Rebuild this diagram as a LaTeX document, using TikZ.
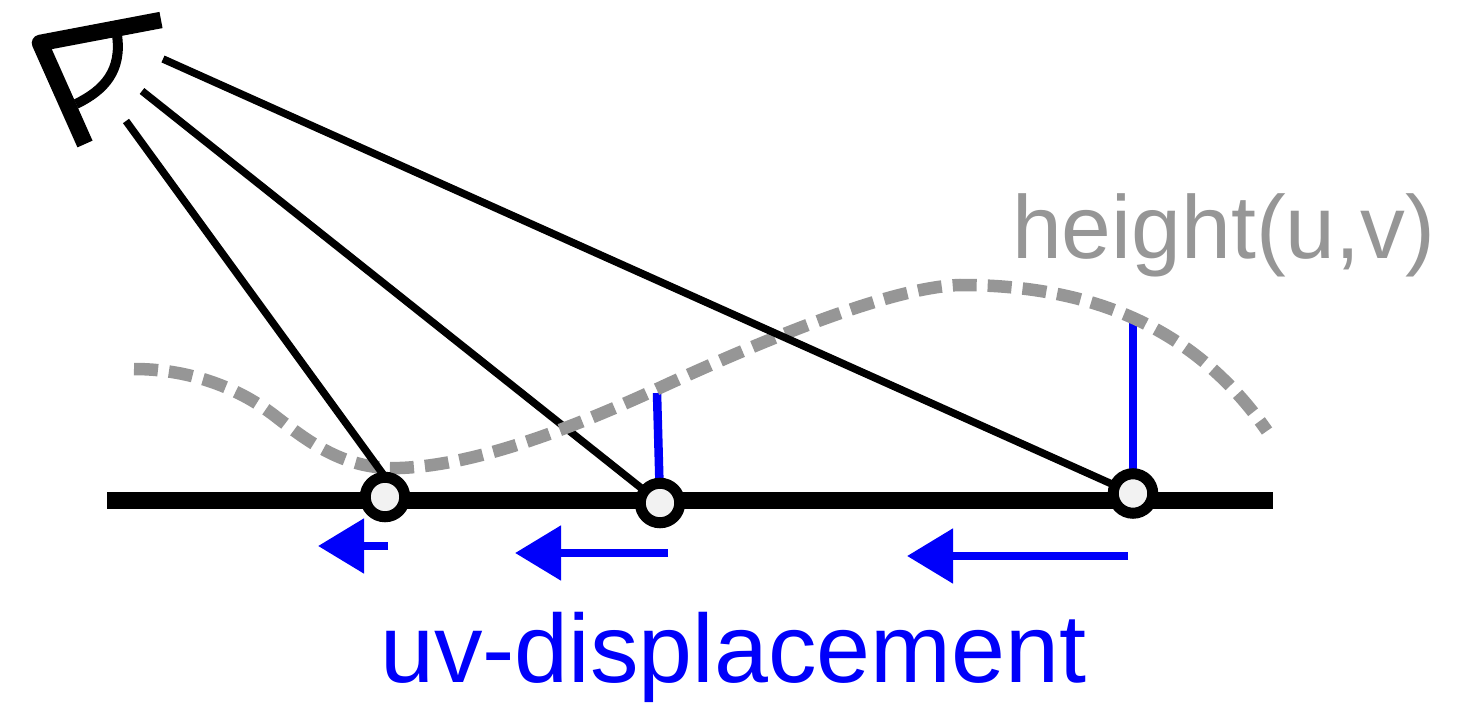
\documentclass[tikz,border=0pt]{standalone}
\usepackage{fontspec}
\setmainfont{Liberation Sans}
\usetikzlibrary{arrows.meta}
\definecolor{hgray}{HTML}{969696}
\definecolor{dblue}{HTML}{0000FA}
\definecolor{dotfill}{HTML}{F2F2F2}
\tikzset{
  ray/.style={draw=black,line width=7.5pt},
  surface/.style={draw=black,line width=17pt},
  heightcurve/.style={draw=hgray,line width=12.5pt,dash pattern=on 24pt off 11pt},
  offset/.style={draw=dblue,line width=8.5pt},
  displ/.style={draw=dblue,line width=8.5pt,-{Triangle[length=46pt,width=53pt]}},
  sample/.style={circle,draw=black,fill=dotfill,line width=11pt,outer sep=0pt,minimum size=39.5pt,inner sep=0pt},
  eyeframe/.style={draw=black,line width=16.5pt,line join=round},
  eyelens/.style={draw=black,line width=10pt},
}
\begin{document}
\begin{tikzpicture}[x=1pt,y=-1pt]
\useasboundingbox (0,0) rectangle (1473,703);
% surface
\coordinate (sl) at (107,500.5);
\coordinate (sr) at (1273,500.5);
\draw[surface] (sl) -- (sr);
% eye
\coordinate (et) at (161,20);
\coordinate (ec) at (40,43);
\coordinate (eb) at (85,144);
\draw[eyeframe] (et) -- (ec) -- (eb);
\draw[eyelens] (117,35) .. controls (122,70) and (105,90) .. (76,104);
% ray start points
\coordinate (r1) at (126,121);
\coordinate (r2) at (142,91);
\coordinate (r3) at (163,59);
\coordinate (p1) at (385,497);
\coordinate (p1top) at (388,481);
\coordinate (p2) at (660,503);
\coordinate (p3) at (1133,493.5);
\draw[ray] (r2) -- (p2);
% offsets
\coordinate (h2) at (657,393);
\coordinate (h3) at (1133,322);
\draw[offset] (h2) -- (p2);
\draw[offset] (h3) -- (p3);
% height curve
\draw[heightcurve] (134,369) .. controls (185,369) and (235,385) .. (275,416)
  .. controls (310,443) and (345,470) .. (400,468)
  .. controls (480,465) and (580,425) .. (668,384)
  .. controls (760,342) and (890,287) .. (960,285)
  .. controls (1080,285) and (1190,320) .. (1267,431);
\draw[ray] (r1) -- (p1top);
\draw[ray] (r3) -- (p3);
% samples
\node[sample] (s1) at (p1) {};
\node[sample] (s2) at (p2) {};
\node[sample] (s3) at (p3) {};
% displacement arrows
\coordinate (a1s) at (388,546);
\coordinate (a1e) at (318,546);
\coordinate (a2s) at (668,553);
\coordinate (a2e) at (515,553);
\coordinate (a3s) at (1128,556);
\coordinate (a3e) at (907,556);
\draw[displ] (a1s) -- (a1e);
\draw[displ] (a2s) -- (a2e);
\draw[displ] (a3s) -- (a3e);
% labels
\node[text=hgray,font=\fontsize{89.5}{89.5}\selectfont,anchor=base west,inner sep=0pt] (hl) at (1012,259) {height(u,v)};
\node[text=dblue,font=\fontsize{97}{97}\selectfont,anchor=base west,inner sep=0pt] (ul) at (380,682) {uv-displacement};
\end{tikzpicture}
\end{document}
